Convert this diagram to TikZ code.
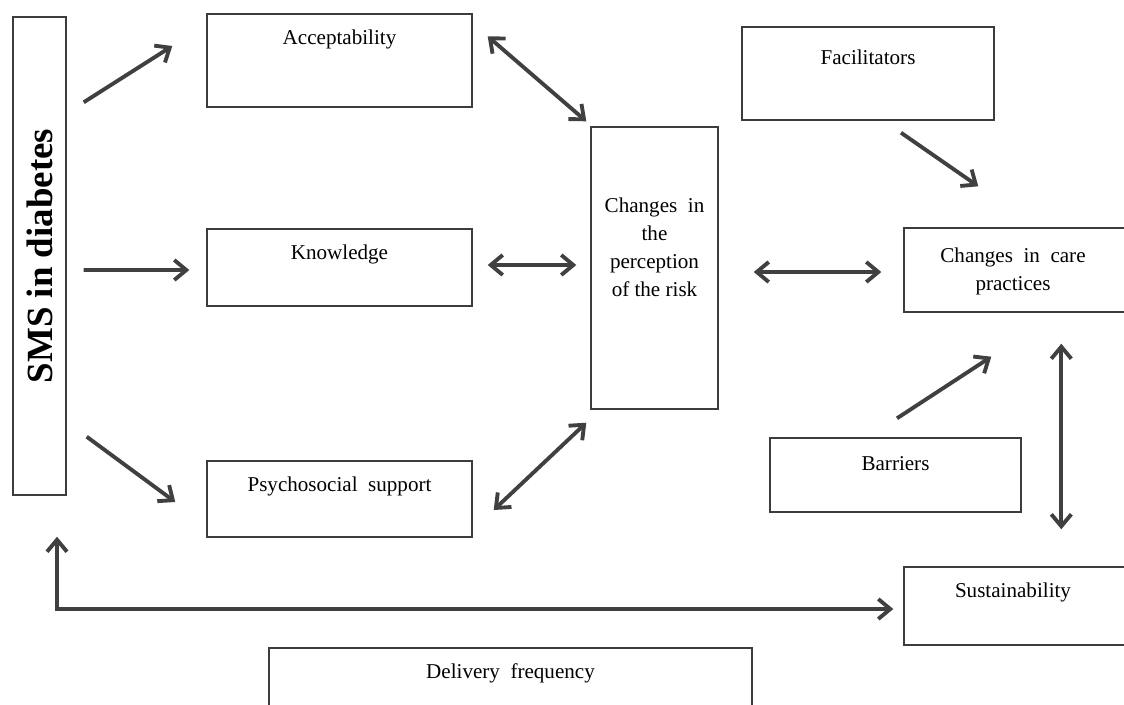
\documentclass[tikz,border=0pt]{standalone}
\usepackage{fontspec}
\setmainfont{Liberation Serif}
\usetikzlibrary{arrows.meta}
\definecolor{boxgray}{HTML}{3C3C3C}
\definecolor{arrgray}{HTML}{404040}
\begin{document}
\begin{tikzpicture}[>={Straight Barb[length=2.4mm,width=4mm]},
  box/.style={draw=boxgray,line width=0.8pt,inner sep=0pt},
  txt/.style={font=\fontsize{12}{16}\selectfont,align=center},
  tlab/.style={txt,anchor=center,yshift=-0.52cm},
  arr/.style={draw=arrgray,line width=2.2pt}]
\useasboundingbox (0,0) rectangle (22.48,-14.08);
% boxes
\node (sms) [box,minimum width=1.06cm,minimum height=9.56cm,
  label={[rotate=90,font=\fontsize{21}{24}\selectfont\bfseries]center:SMS in diabetes}] at (0.79,-5.12) {};
\node (acc) [box,minimum width=5.30cm,minimum height=1.86cm,
  label={[tlab]north:Acceptability}] at (6.79,-1.21) {};
\node (know) [box,minimum width=5.30cm,minimum height=1.54cm,
  label={[tlab]north:Knowledge}] at (6.79,-5.35) {};
\node (psy) [box,minimum width=5.30cm,minimum height=1.52cm,
  label={[tlab]north:Psychosocial~ support}] at (6.79,-9.98) {};
\node (perc) [box,minimum width=2.54cm,minimum height=5.64cm,
  label={[txt,yshift=0.42cm]center:Changes~ in\\the\\perception\\of the risk}] at (13.09,-5.36) {};
\node (fac) [box,minimum width=5.04cm,minimum height=1.86cm,
  label={[tlab,yshift=-0.10cm]north:Facilitators}] at (17.36,-1.47) {};
\node (care) [box,minimum width=4.52cm,minimum height=1.68cm,
  label={[tlab,yshift=-0.37cm,xshift=-0.08cm]north:Changes~ in~ care\\practices}] at (20.34,-5.40) {};
\node (bar) [box,minimum width=5.02cm,minimum height=1.48cm,
  label={[tlab]north:Barriers}] at (17.91,-9.50) {};
\node (sus) [box,minimum width=4.52cm,minimum height=1.56cm,
  label={[tlab,xshift=-0.08cm]north:Sustainability}] at (20.34,-12.12) {};
\node (del) [box,minimum width=9.66cm,minimum height=1.64cm,
  label={[tlab]north:Delivery~ frequency}] at (10.21,-13.78) {};
% arrows from SMS
\draw[arr,->] ([shift={(0.34,-1.72)}]sms.north east) -- ([shift={(-0.68,0.29)}]acc.west);
\draw[arr,->] ([shift={(0.34,-0.28)}]sms.east) -- ([shift={(-0.34,-0.05)}]know.west);
\draw[arr,->] ([shift={(0.40,1.18)}]sms.south east) -- ([shift={(-0.62,-0.06)}]psy.west);
% to and from perception
\draw[arr,<->] ([shift={(0.30,-0.46)}]acc.north east) -- ([shift={(-0.08,0.10)}]perc.north west);
\draw[arr,<->] ([shift={(0.30,0.05)}]know.east) -- ([shift={(-0.28,0.06)}]perc.west);
\draw[arr,<->] ([shift={(0.42,-0.22)}]psy.east) -- ([shift={(-0.08,-0.26)}]perc.south west);
\draw[arr,<->] ([shift={(0.70,-0.08)}]perc.east) -- ([shift={(-0.44,-0.04)}]care.west);
% right side
\draw[arr,->] ([shift={(0.66,-0.24)}]fac.south) -- ([shift={(1.50,0.82)}]care.north west);
\draw[arr,->] ([shift={(0.03,0.38)}]bar.north) -- ([shift={(1.76,-0.88)}]care.south west);
\draw[arr,<->] ([shift={(3.16,-0.62)}]care.south west) -- ([shift={(3.16,0.74)}]sus.north west);
\draw[arr,<->] ([shift={(0.35,-0.82)}]sms.south) |- ([shift={(-0.20,-0.06)}]sus.west);
\end{tikzpicture}
\end{document}
